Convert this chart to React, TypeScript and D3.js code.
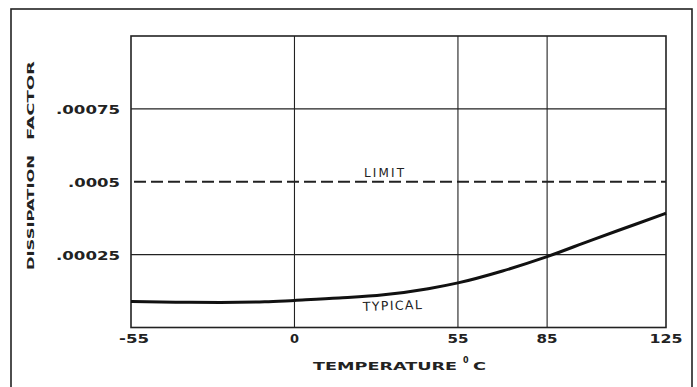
import React from "react";
import * as d3 from "d3";

const temps = [-55, -40, -25, -10, 0, 15, 30, 45, 55, 70, 85, 100, 115, 125];
const typical = [0.000089, 0.000087, 0.000086, 0.000088, 0.000093, 0.000101, 0.000112, 0.000133, 0.000153, 0.000194, 0.000243, 0.0003, 0.000355, 0.000392];
const limitValue = 0.0005;
const xTicks = [-55, 0, 55, 85, 125];
const yTicks = [0.00025, 0.0005, 0.00075];
const yTickLabels = [".00025", ".0005", ".00075"];

const W = 697;
const H = 387;
const left = 131, right = 666, top = 36, bottom = 327.5;

const FONT = "'DejaVu Sans', sans-serif";

function labelWidth(s: string): number {
  let w = 0;
  for (const ch of s) {
    if (ch === ".") w += 7;
    else if (ch === "-") w += 9;
    else w += 12;
  }
  return w - 3;
}

export default function App() {
  const x = d3.scaleLinear().domain([-55, 125]).range([left, right]);
  const y = d3.scaleLinear().domain([0, 0.001]).range([bottom, top]);
  const pts: [number, number][] = temps.map((t, i) => [t, typical[i]]);
  const line = d3
    .line<[number, number]>()
    .x((d) => x(d[0]))
    .y((d) => y(d[1]))
    .curve(d3.curveMonotoneX);

  return (
    <svg
      width={W}
      height={H}
      style={{ position: "absolute", left: 0, top: 0, background: "#fff" }}
    >
      {/* outer frame */}
      <rect x={11} y={9} width={681} height={400} fill="none" stroke="#222" strokeWidth={1.6} />

      {/* grid */}
      {xTicks.slice(1, -1).map((t) => (
        <line key={"gx" + t} x1={x(t)} x2={x(t)} y1={top} y2={bottom} stroke="#222" strokeWidth={1.1} />
      ))}
      {yTicks.map((t) => (
        t === limitValue ? null :
        <line key={"gy" + t} x1={left} x2={right} y1={y(t)} y2={y(t)} stroke="#222" strokeWidth={1.1} />
      ))}

      {/* plot border */}
      <rect x={left} y={top} width={right - left} height={bottom - top} fill="none" stroke="#222" strokeWidth={1.6} />

      {/* limit dashed line */}
      <line
        x1={left + 3}
        x2={right}
        y1={y(limitValue)}
        y2={y(limitValue)}
        stroke="#222"
        strokeWidth={2}
        strokeDasharray="12,5"
      />
      <text
        x={364}
        y={177}
        fontFamily={FONT}
        fontSize={12}
        textLength={40}
        lengthAdjust="spacing"
        fill="#222"
      >
        LIMIT
      </text>

      {/* typical curve */}
      <path d={line(pts) ?? ""} fill="none" stroke="#111" strokeWidth={3} />
      <text
        x={363}
        y={311}
        fontFamily={FONT}
        fontSize={12.5}
        textLength={59}
        lengthAdjust="spacing"
        fill="#222"
        transform="rotate(-2 363 311)"
      >
        TYPICAL
      </text>

      {/* y tick labels */}
      {yTicks.map((t, i) => (
        <text
          key={"yl" + t}
          x={120}
          y={y(t) + 5}
          textAnchor="end"
          fontFamily={FONT}
          fontWeight="bold"
          fontSize={12}
          textLength={labelWidth(yTickLabels[i])}
          lengthAdjust="spacingAndGlyphs"
          fill="#222"
        >
          {yTickLabels[i]}
        </text>
      ))}

      {/* x tick labels */}
      {xTicks.map((t, i) => {
        const s = String(t);
        const dx = i === 0 ? 3 : 0;
        return (
          <text
            key={"xl" + t}
            x={x(t) + dx}
            y={343}
            textAnchor="middle"
            fontFamily={FONT}
            fontWeight="bold"
            fontSize={12}
            textLength={labelWidth(s)}
            lengthAdjust="spacingAndGlyphs"
            fill="#222"
          >
            {s}
          </text>
        );
      })}

      {/* x axis title */}
      <text
        x={313}
        y={370}
        fontFamily={FONT}
        fontWeight="bold"
        fontSize={11}
        textLength={144}
        lengthAdjust="spacingAndGlyphs"
        fill="#222"
      >
        TEMPERATURE
      </text>
      <text x={463} y={363} fontFamily={FONT} fontWeight="bold" fontSize={8} fill="#222">
        0
      </text>
      <text
        x={473}
        y={370}
        fontFamily={FONT}
        fontWeight="bold"
        fontSize={11}
        textLength={13}
        lengthAdjust="spacingAndGlyphs"
        fill="#222"
      >
        C
      </text>

      {/* y axis title */}
      <g transform="translate(34,270) rotate(-90)">
        <text
          x={0}
          y={0}
          fontFamily={FONT}
          fontWeight="bold"
          fontSize={9.5}
          textLength={115}
          lengthAdjust="spacingAndGlyphs"
          fill="#222"
        >
          DISSIPATION
        </text>
        <text
          x={130}
          y={0}
          fontFamily={FONT}
          fontWeight="bold"
          fontSize={9.5}
          textLength={79}
          lengthAdjust="spacingAndGlyphs"
          fill="#222"
        >
          FACTOR
        </text>
      </g>
    </svg>
  );
}
